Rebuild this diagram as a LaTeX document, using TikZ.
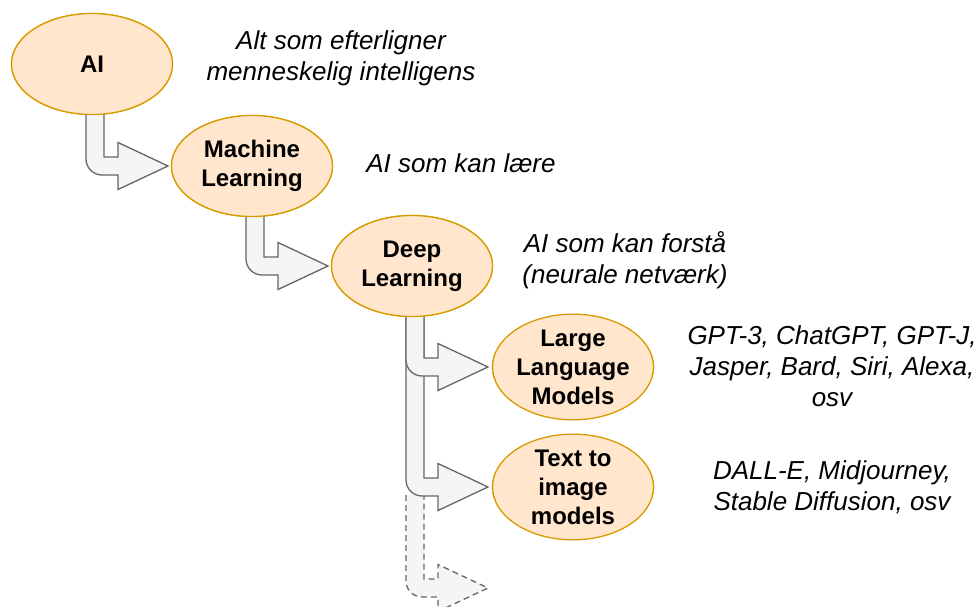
\documentclass[tikz,border=0pt]{standalone}
\usepackage{fontspec}
\setmainfont{Liberation Sans}
\usetikzlibrary{shapes.geometric,calc}
\definecolor{ofill}{HTML}{FFE6CC}
\definecolor{oline}{HTML}{D79B00}
\definecolor{afill}{HTML}{F5F5F5}
\definecolor{aline}{HTML}{666666}
\tikzset{
  oval/.style={ellipse,draw=oline,fill=ofill,line width=1.3pt,minimum width=161pt,minimum height=101pt,inner sep=0pt,align=center,font=\fontsize{24}{29}\selectfont\bfseries},
  lbl/.style={align=center,font=\fontsize{26}{31}\selectfont\itshape,inner sep=0pt},
  arr/.style={draw=aline,fill=afill,line width=1.3pt,line join=miter},
  arrdash/.style={draw=aline,line width=1.3pt,line join=miter,dashed,dash pattern=on 6pt off 4pt}
}
% #1 from node, #2 target point, #3 style, #4 start depth below centre of #1
\newcommand\bentarr[4]{%
  \path (#1.center |- #2) coordinate (k);
  \draw[#3] ($(#1.center)+(-6,-#4)$) -- ($(k)+(-6,7)$)
    arc[start angle=180,end angle=270,radius=16pt]
    -- ($(k)+(26,-9)$) -- ($(k)+(26,-23.5)$) -- ($(k)+(76,0)$)
    -- ($(k)+(26,23.5)$) -- ($(k)+(26,9)$) -- ($(k)+(12,9)$)
    -- ($(#1.center)+(12,-#4)$) -- cycle;}
% same outline, filled, stroked dashed without its top edge
\newcommand\bentarrdash[3]{%
  \path (#1.center |- #2) coordinate (k);
  \fill[afill] ($(#1.center)+(-6,-#3)$) -- ($(k)+(-6,7)$)
    arc[start angle=180,end angle=270,radius=16pt]
    -- ($(k)+(26,-9)$) -- ($(k)+(26,-23.5)$) -- ($(k)+(76,0)$)
    -- ($(k)+(26,23.5)$) -- ($(k)+(26,9)$) -- ($(k)+(12,9)$)
    -- ($(#1.center)+(12,-#3)$) -- cycle;
  \draw[arrdash] ($(#1.center)+(-6,-#3)$) -- ($(k)+(-6,7)$)
    arc[start angle=180,end angle=270,radius=16pt]
    -- ($(k)+(26,-9)$) -- ($(k)+(26,-23.5)$) -- ($(k)+(76,0)$)
    -- ($(k)+(26,23.5)$) -- ($(k)+(26,9)$) -- ($(k)+(12,9)$)
    -- ($(#1.center)+(12,-#3)$);}
\begin{document}
\begin{tikzpicture}[x=1pt,y=1pt]
\useasboundingbox (0,0) rectangle (978,-607);
\clip (0,0) rectangle (978,-607);
% node positions
\path (92,-64) coordinate (pai) (252,-166) coordinate (pml) (412,-266) coordinate (pdl)
      (573,-367) coordinate (pllm) (573,-487) coordinate (ptti) (573,-588) coordinate (more);
\path (pai) node[oval] (ai) {};
\path (pml) node[oval] (ml) {};
\path (pdl) node[oval] (dl) {};
\path (pllm) node[oval] (llm) {};
\path (ptti) node[oval] (tti) {};
% arrows
\bentarrdash{dl}{more}{229}
\bentarr{dl}{tti.center}{arr}{40}
\bentarr{dl}{llm.center}{arr}{40}
\bentarr{ml}{dl.center}{arr}{40}
\bentarr{ai}{ml.center}{arr}{40}
% ellipses on top
\node[oval] at (pai) {AI};
\node[oval] at (pml) {Machine\\Learning};
\node[oval] at (pdl) {Deep\\Learning};
\node[oval] at (pllm) {Large\\Language\\Models};
\node[oval] at (ptti) {Text to\\image\\models};
% labels
\node[lbl] (t1) at (341,-58) {Alt som efterligner\\menneskelig intelligens};
\node[lbl] (t2) at (461,-163) {AI som kan lære};
\node[lbl] (t3) at (625,-260) {AI som kan forstå\\(neurale netværk)};
\node[lbl] (t4) at (832,-366) {GPT-3, ChatGPT, GPT-J,\\Jasper, Bard, Siri, Alexa,\\osv};
\node[lbl] (t5) at (832,-487) {DALL-E, Midjourney,\\Stable Diffusion, osv};
\end{tikzpicture}
\end{document}
